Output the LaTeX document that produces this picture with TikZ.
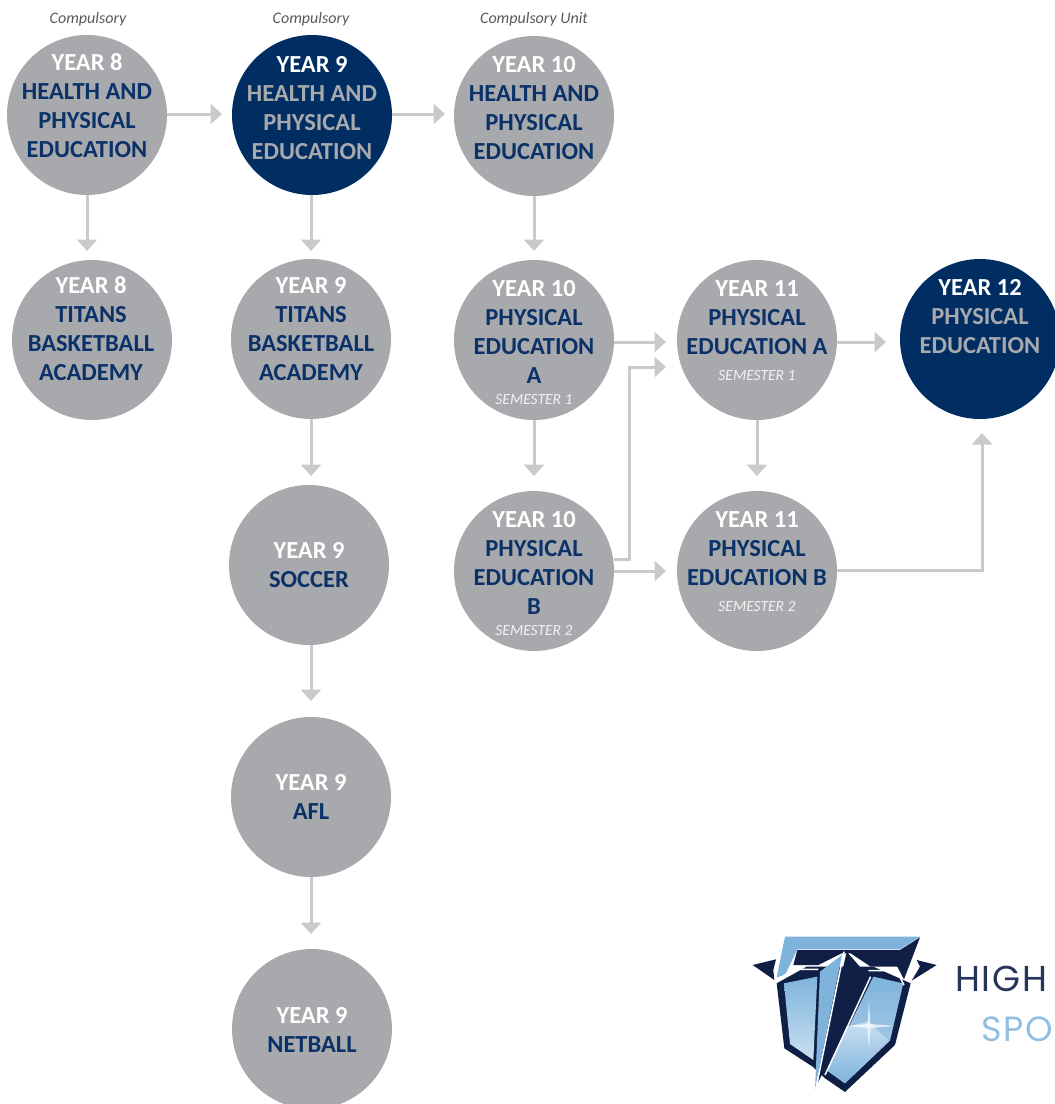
\documentclass[tikz,border=0pt]{standalone}
\usepackage{fontspec}
\setmainfont{Carlito}
\newfontfamily\logofont[LetterSpace=5]{Poppins}
\usetikzlibrary{arrows.meta}
\definecolor{circgray}{HTML}{A7A9AC}
\definecolor{navy}{HTML}{002D62}
\definecolor{tnavy}{HTML}{0B3268}
\definecolor{linegray}{HTML}{C8CACC}
\definecolor{logodark}{HTML}{0F1F45}
\definecolor{logomid}{HTML}{7FB3DC}
\definecolor{logolight}{HTML}{C9E0F1}
\definecolor{logotext}{HTML}{27355A}
\definecolor{logosky}{HTML}{8FBFE2}
\tikzset{
  x=1pt,y=-1pt,
  graycirc/.style={circle,fill=circgray,minimum size=160pt,inner sep=0pt,outer sep=0pt},
  navycirc/.style={circle,fill=navy,minimum size=160pt,inner sep=0pt,outer sep=0pt},
  txt/.style={anchor=north,inner sep=0pt,outer sep=0pt,align=center,font=\fontsize{24.5}{29}\selectfont\bfseries,text=tnavy},
  txtn/.style={txt,text=circgray},
  semtxt/.style={anchor=center,inner sep=0pt,font=\fontsize{15.5}{18}\selectfont\itshape,text=white!85!circgray},
  captxt/.style={anchor=center,inner sep=0pt,font=\fontsize{16}{18}\selectfont\itshape,text=black!65},
  conn/.style={draw=linegray,line width=3pt,-{Triangle[length=11.5pt,width=20pt]}}
}
\newcommand{\yr}[1]{\textcolor{white}{#1}}
\begin{document}
\begin{tikzpicture}
\useasboundingbox (0,0) rectangle (1055,1104);
\clip (0,0) rectangle (1055,1104);
% circles
\node[graycirc] (a8) at (87,115) {};
\node[navycirc] (a9) at (312,115) {};
\node[graycirc] (a10) at (534,116) {};
\node[graycirc] (b8) at (92,340) {};
\node[graycirc] (b9) at (311,339) {};
\node[graycirc] (pa) at (534,340) {};
\node[graycirc] (ya) at (757,340) {};
\node[navycirc] (y12) at (980,339) {};
\node[graycirc] (soc) at (309,565) {};
\node[graycirc] (pb) at (534,571) {};
\node[graycirc] (yb) at (757,571) {};
\node[graycirc] (afl) at (311,797) {};
\node[graycirc] (net) at (312,1029) {};
% captions
\node[captxt] (c1) at (88,19.5) {Compulsory};
\node[captxt] (c2) at (311,19.5) {Compulsory};
\node[captxt] (c3) at (534,19.5) {Compulsory Unit};
% labels
\node[txt] (ta8) at (87,54) {\yr{YEAR 8}\\HEALTH AND\\PHYSICAL\\EDUCATION};
\node[txtn] (ta9) at (312,56) {\yr{YEAR 9}\\HEALTH AND\\PHYSICAL\\EDUCATION};
\node[txt] (ta10) at (534,56) {\yr{YEAR 10}\\HEALTH AND\\PHYSICAL\\EDUCATION};
\node[txt] (tb8) at (91,277) {\yr{YEAR 8}\\TITANS\\BASKETBALL\\ACADEMY};
\node[txt] (tb9) at (311,277) {\yr{YEAR 9}\\TITANS\\BASKETBALL\\ACADEMY};
\node[txt] (tpa) at (534,280) {\yr{YEAR 10}\\PHYSICAL\\EDUCATION\\A};
\node[semtxt] (spa) at (534,400) {SEMESTER 1};
\node[txt] (tya) at (757,281) {\yr{YEAR 11}\\PHYSICAL\\EDUCATION A};
\node[semtxt] (sya) at (757,376) {SEMESTER 1};
\node[txtn] (ty12) at (980,279) {\yr{YEAR 12}\\PHYSICAL\\EDUCATION};
\node[txt] (tsoc) at (309,542) {\yr{YEAR 9}\\SOCCER};
\node[txt] (tpb) at (534,511) {\yr{YEAR 10}\\PHYSICAL\\EDUCATION\\B};
\node[semtxt] (spb) at (534,631) {SEMESTER 2};
\node[txt] (tyb) at (757,512) {\yr{YEAR 11}\\PHYSICAL\\EDUCATION B};
\node[semtxt] (syb) at (757,607) {SEMESTER 2};
\node[txt] (tafl) at (311,774) {\yr{YEAR 9}\\AFL};
\node[txt] (tnet) at (312,1007) {\yr{YEAR 9}\\NETBALL};
% free ends
\coordinate (e1) at (222,114);
\coordinate (e2) at (445,114);
\coordinate (e3) at (87,251);
\coordinate (e4) at (311,251);
\coordinate (e5) at (534,251);
\coordinate (e6) at (311,476);
\coordinate (e7) at (311,701);
\coordinate (e8) at (311,934);
\coordinate (e9) at (534,476);
\coordinate (e10) at (757,476);
\coordinate (e11) at (666,342);
\coordinate (e12) at (666,367);
\coordinate (e13) at (666,571);
\coordinate (e14) at (886,342);
\coordinate (e15) at (982,433);
\coordinate (k1) at (629,559);
\coordinate (k2) at (629,367);
\coordinate (k3) at (982,570);
% connectors
\draw[conn] (a8.east |- e1) -- (e1);
\draw[conn] (a9.east |- e2) -- (e2);
\draw[conn] (a8.south) -- (e3);
\draw[conn] (b9.north |- a9.south) -- (e4);
\draw[conn] (a10.south) -- (e5);
\draw[conn] (b9.south) -- (e6);
\draw[conn] (e7 |- soc.south) -- (e7);
\draw[conn] (afl.south) -- (e8);
\draw[conn] (pa.south) -- (e9);
\draw[conn] (ya.south) -- (e10);
\draw[conn] (pa.east |- e11) -- (e11);
\draw[conn] (pb.east |- k1) -- (k1) -- (k2) -- (e12);
\draw[conn] (pb.east) -- (e13);
\draw[conn] (ya.east |- e14) -- (e14);
\draw[conn] (yb.east |- k3) -- (k3) -- (e15);
% logo
\begin{scope}[shift={(740,920)},x=0.3333pt,y=-0.3333pt]
\fill[logodark] (110,190) -- (133,385) -- (218,440) -- (255,475) -- (315,516) -- (465,375) -- (512,190) -- (400,140) -- (200,140) -- cycle;
\shade[top color=logomid,bottom color=logolight] (132,190) -- (150,372) -- (220,420) -- (232,170) -- cycle;
\shade[top color=logomid,bottom color=logomid!60!white] (400,170) -- (490,190) -- (450,362) -- (315,490) -- (262,452) -- cycle;
\shade[top color=logolight,bottom color=logomid] (262,452) -- (320,320) -- (385,305) -- (445,360) -- (315,490) -- cycle;
\fill[white,opacity=.7] (387,240) -- (391,312) -- (465,318) -- (391,324) -- (387,390) -- (383,324) -- (325,318) -- (383,312) -- cycle;
\fill[logodark] (38,135) -- (108,118) -- (100,150) -- (103,180) -- cycle;
\fill[logodark] (530,120) -- (590,135) -- (515,182) -- (540,140) -- cycle;
\fill[logomid] (135,50) -- (540,50) -- (480,88) -- (172,88) -- (135,165) -- (110,172) -- cycle;
\fill[logodark] (172,90) -- (480,90) -- (540,52) -- (492,178) -- (472,140) -- (392,140) -- (332,100) -- (305,100) -- (235,135) -- (160,135) -- cycle;
\draw[white,line width=1.5pt] (105,185) -- (160,148) -- (235,148);
\draw[white,line width=1.5pt] (385,152) -- (470,152) -- (492,195);
\fill[logomid] (240,155) -- (306,105) -- (225,510) -- cycle;
\fill[logodark] (320,95) -- (386,170) -- (247,462) -- (232,490) -- cycle;
\draw[white,line width=1.5pt] (312,95) -- (228,505);
\draw[white,line width=1.5pt] (392,170) -- (255,465);
\end{scope}
\node[anchor=base west,inner sep=0pt,font=\logofont\fontsize{36}{36}\selectfont,text=logotext] (hi) at (955,991) {HIGH};
\node[anchor=base west,inner sep=0pt,font=\logofont\fontsize{35}{35}\selectfont,text=logosky] (sp) at (981,1041) {SPO};
\end{tikzpicture}
\end{document}
